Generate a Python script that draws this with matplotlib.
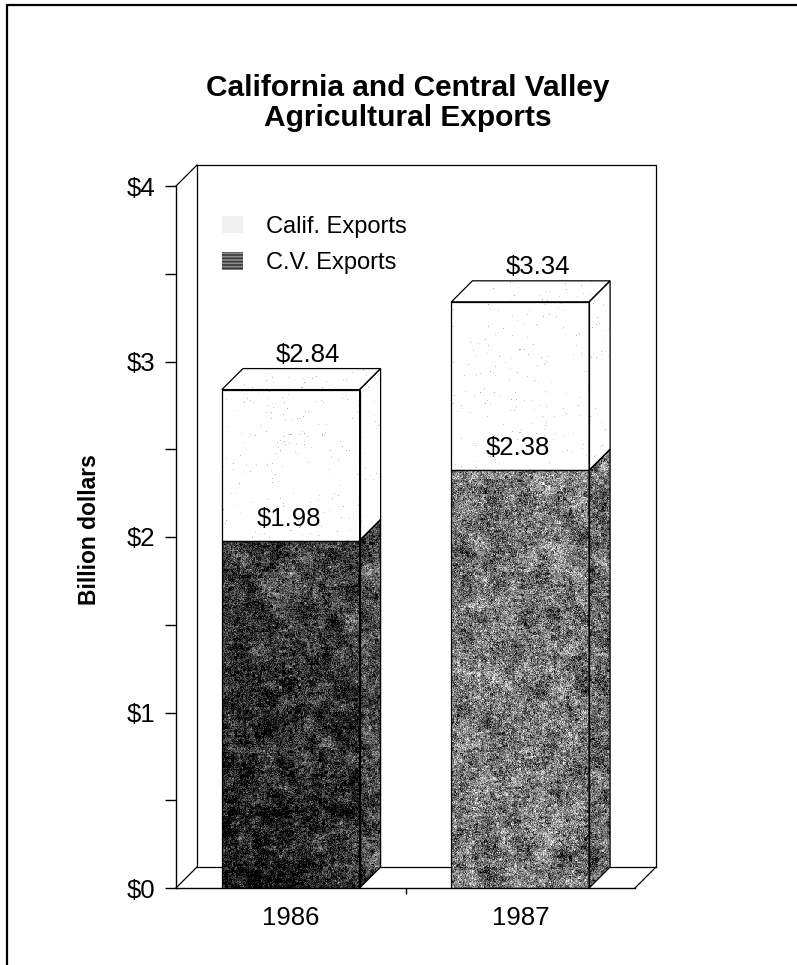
import numpy as np
import matplotlib
matplotlib.use('Agg')
import matplotlib.pyplot as plt
from matplotlib.patches import Polygon, Patch
from matplotlib.lines import Line2D

years = ['1986', '1987']
calif_exports = [2.84, 3.34]
cv_exports = [1.98, 2.38]
series_names = ['Calif. Exports', 'C.V. Exports']
y_ticks = [0, 1, 2, 3, 4]

plt.rcParams['font.family'] = ['Liberation Sans', 'DejaVu Sans']
plt.rcParams['hatch.linewidth'] = 1.2

fig = plt.figure(figsize=(7.97, 9.65), dpi=100)
ax = fig.add_axes([176 / 797, 77 / 965, 459 / 797, 702 / 965])

xpos = np.arange(len(years))
width = 0.6
xmin, xmax, ymax = -0.5, 1.5, 4
dx = 21 / 229.5   # depth of the fake 3d, in data units
dy = 21 / 175.5

rng = np.random.default_rng(11)


def blur(a, k):
    ker = np.ones(k) / k
    a = np.apply_along_axis(lambda r: np.convolve(r, ker, mode='same'), 0, a)
    return np.apply_along_axis(lambda r: np.convolve(r, ker, mode='same'), 1, a)


def grain(h, w, base, amp, mid_amp, shade=0.0):
    h, w = max(int(h), 2), max(int(w), 2)
    fine = rng.normal(0, amp, (h, w))
    m = rng.normal(0, mid_amp, (h // 3 + 1, w // 3 + 1))
    m = np.kron(m, np.ones((3, 3)))[:h, :w]
    blot = blur(rng.normal(0, 1, (h, w)), 15)
    blot = blot / (blot.std() + 1e-9) * 0.07
    yy, xx = np.mgrid[0:1:h * 1j, 0:1:w * 1j]
    grad = -shade * (1 - yy) * 0.7 - shade * (1 - xx) * 0.3
    return np.clip(base + fine + m + blot + grad, 0, 1)


def specks(h, w):
    h, w = max(int(h), 2), max(int(w), 2)
    dots = rng.random((h, w)) < 0.008
    return 1 - dots * rng.uniform(0.1, 0.35, (h, w))


def paint(patch, extent, tex):
    im = ax.imshow(tex, extent=extent, origin='lower', cmap='gray', vmin=0, vmax=1,
                   aspect='auto', interpolation='nearest', zorder=2)
    im.set_clip_path(patch)


# back wall and floor
back = dict(color='black', lw=0.9, clip_on=False, zorder=1)
ax.plot([xmin + dx, xmin + dx, xmax + dx, xmax + dx], [dy, ymax + dy, ymax + dy, dy], **back)
ax.plot([xmin + dx, xmax + dx], [dy, dy], **back)
ax.plot([xmin, xmin + dx], [0, dy], **back)
ax.plot([xmin, xmin + dx], [ymax, ymax + dy], **back)
ax.plot([xmax, xmax + dx], [0, dy], **back)

edge = dict(facecolor='none', edgecolor='black', lw=0.9, zorder=3)
cv_bars = ax.bar(xpos, cv_exports, width, **edge)
top_bars = ax.bar(xpos, np.subtract(calif_exports, cv_exports), width, bottom=cv_exports, **edge)

cv_look = [(0.26, 0.12, 0.07, 0.16), (0.47, 0.15, 0.08, 0.0)]
side_look = [(0.30, 0.12, 0.07), (0.40, 0.14, 0.08)]
wpx = width * 229.5
for i, x in enumerate(xpos):
    v1, v2 = cv_exports[i], calif_exports[i]
    x0, x1 = x - width / 2, x + width / 2
    paint(cv_bars[i], [x0, x1, 0, v1], grain(v1 * 175.5, wpx, *cv_look[i]))
    paint(top_bars[i], [x0, x1, v1, v2], specks((v2 - v1) * 175.5, wpx))

    side_cv = Polygon([(x1, 0), (x1 + dx, dy), (x1 + dx, v1 + dy), (x1, v1)], **edge)
    side_ca = Polygon([(x1, v1), (x1 + dx, v1 + dy), (x1 + dx, v2 + dy), (x1, v2)], **edge)
    top = Polygon([(x0, v2), (x0 + dx, v2 + dy), (x1 + dx, v2 + dy), (x1, v2)], **edge)
    for p in (side_cv, side_ca, top):
        ax.add_patch(p)
    paint(side_cv, [x1, x1 + dx, 0, v1 + dy], grain(v1 * 175.5 + 21, 21, *side_look[i]))
    paint(side_ca, [x1, x1 + dx, v1, v2 + dy], specks((v2 - v1) * 175.5 + 21, 21))
    paint(top, [x0, x1 + dx, v2, v2 + dy], specks(21, wpx + 21))

    ax.text(x + 0.075, v2 + dy + 0.04, f'${v2:.2f}', ha='center', va='baseline',
            fontsize=18.5, zorder=5)
    ax.text(x - 0.01, v1 + 0.085, f'${v1:.2f}', ha='center', va='baseline',
            fontsize=18.5, zorder=5)

ax.set_xlim(xmin, xmax)
ax.set_ylim(0, ymax)
ax.set_facecolor('none')
for s in ['top', 'right']:
    ax.spines[s].set_visible(False)
ax.spines['left'].set_linewidth(1.0)
ax.spines['bottom'].set_linewidth(1.0)

ax.set_yticks(y_ticks, [f'${v}' for v in y_ticks])
ax.set_yticks(np.arange(0.5, ymax, 1), minor=True)
ax.tick_params(axis='y', which='both', length=8, width=1, pad=7, labelsize=18.5)
ax.set_xticks(xpos, years)
ax.set_xticks([0.5], minor=True)
ax.tick_params(axis='x', which='major', length=0, pad=13, labelsize=18.5)
ax.tick_params(axis='x', which='minor', length=4, width=1)

handles = [Patch(facecolor='#f0f0f0', edgecolor='none'),
           Patch(facecolor='#8c8c8c', edgecolor='#3a3a3a', hatch='-----', lw=0)]
fig.legend(handles, series_names, loc='upper left', bbox_to_anchor=(222 / 797, 1 - 216 / 965),
           frameon=False, fontsize=17, handlelength=0.9, handleheight=0.76,
           handletextpad=0.95, labelspacing=0.6, borderpad=0, borderaxespad=0)

fig.text(408 / 797, 1 - 103 / 965, 'California and Central Valley\nAgricultural Exports',
         ha='center', va='center', fontsize=21.5, fontweight='bold', linespacing=1.05)
fig.text(89 / 797, 1 - 530 / 965, 'Billion dollars', rotation=90, ha='center', va='center',
         fontsize=16.5, fontweight='bold')

fig.add_artist(Line2D([7 / 797, 7 / 797, 1], [0, 1 - 5 / 965, 1 - 5 / 965],
                      color='black', lw=1.6, transform=fig.transFigure))

fig.savefig('out.png', dpi=100)
